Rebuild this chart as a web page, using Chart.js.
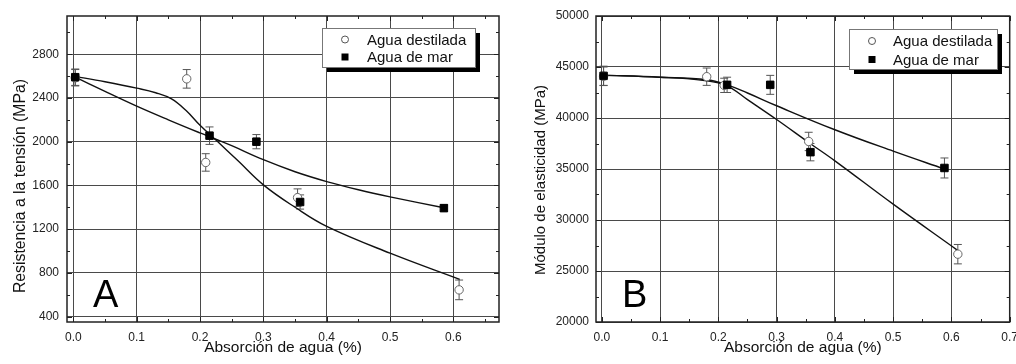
<!DOCTYPE html>
<html>
<head>
<meta charset="utf-8">
<script src="https://cdn.jsdelivr.net/npm/chart.js@4.4.1/dist/chart.umd.min.js"></script>
<style>
    html, body { margin: 0; padding: 0; background: #fff; }
    #wrap { position: relative; width: 1016px; height: 364px; overflow: hidden; }
    canvas { position: absolute; top: 0; }
    #chartA { left: 0; }
    #chartB { left: 508px; }
</style>
</head>
<body>
<div id="wrap">
    <canvas id="chartA" width="508" height="364"></canvas>
    <canvas id="chartB" width="508" height="364"></canvas>
</div>
<script>
// ===== Data =====
const seriesNames = ['Agua destilada', 'Agua de mar'];
const xTitle = 'Absorción de agua (%)';

// Panel A - Resistencia a la tensión
const xDestA = [0.003, 0.179, 0.209, 0.354, 0.609];
const yDestA = [2585, 2575, 1810, 1488, 644];
const errDestA = [75, 85, 80, 80, 90];
const xMarA = [0.003, 0.215, 0.289, 0.358, 0.585];
const yMarA = [2590, 2055, 2000, 1448, 1392];
const errMarA = [75, 80, 65, 65, 30];
const fitDestAx = [0, 0.05, 0.1, 0.13, 0.155, 0.178, 0.2, 0.226, 0.26, 0.3, 0.35, 0.4, 0.5, 0.61];
const fitDestAy = [2600, 2548, 2490, 2448, 2392, 2285, 2150, 2010, 1825, 1605, 1400, 1225, 980, 740];
const fitMarAx = [0, 0.05, 0.1, 0.15, 0.2, 0.226, 0.25, 0.3, 0.35, 0.4, 0.45, 0.5, 0.585];
const fitMarAy = [2600, 2460, 2325, 2200, 2080, 2020, 1963, 1835, 1725, 1635, 1560, 1495, 1395];
const xTicksA = [0, 0.1, 0.2, 0.3, 0.4, 0.5, 0.6];
const xMinorA = [0.05, 0.15, 0.25, 0.35, 0.45, 0.55, 0.65];
const yTicksA = [400, 800, 1200, 1600, 2000, 2400, 2800];
const yMinorA = [600, 1000, 1400, 1800, 2200, 2600, 3000];

// Panel B - Módulo de elasticidad
const xDestB = [0.003, 0.180, 0.210, 0.355, 0.611];
const yDestB = [44100, 44050, 43200, 37700, 26650];
const errDestB = [900, 850, 700, 900, 950];
const xMarB = [0.003, 0.215, 0.289, 0.358, 0.588];
const yMarB = [44130, 43250, 43250, 36650, 35100];
const errMarB = [950, 750, 930, 850, 980];
const fitDestBx = [0, 0.1, 0.18, 0.215, 0.25, 0.3, 0.355, 0.4, 0.5, 0.61];
const fitDestBy = [44200, 44000, 43650, 43150, 41800, 39850, 37600, 35800, 31550, 27050];
const fitMarBx = [0, 0.1, 0.18, 0.215, 0.25, 0.3, 0.4, 0.5, 0.588];
const fitMarBy = [44200, 44000, 43750, 43250, 42450, 41200, 38850, 36750, 35000];
const xTicksB = [0, 0.1, 0.2, 0.3, 0.4, 0.5, 0.6, 0.7];
const xMinorB = [0.05, 0.15, 0.25, 0.35, 0.45, 0.55, 0.65];
const yTicksB = [20000, 25000, 30000, 35000, 40000, 45000, 50000];
const yMinorB = [22500, 27500, 32500, 37500, 42500, 47500];

const FONT = "'Liberation Sans', Arial, sans-serif";
Chart.defaults.font.family = FONT;
Chart.defaults.color = '#222';

const toPoints = (xs, ys) => xs.map((x, i) => ({ x, y: ys[i] }));

/**
 * Vertical error bars, drawn under the markers
 */
const errorBarPlugin = {
    id: 'errorBars',
    beforeDatasetsDraw(chart) {
        const ctx = chart.ctx;
        const yScale = chart.scales.y;
        ctx.save();
        ctx.strokeStyle = '#555';
        ctx.lineWidth = 1;
        chart.data.datasets.forEach((ds, di) => {
            if (!ds.errors) return;
            const meta = chart.getDatasetMeta(di);
            meta.data.forEach((pt, i) => {
                const v = ds.data[i].y;
                const top = yScale.getPixelForValue(v + ds.errors[i]);
                const bot = yScale.getPixelForValue(v - ds.errors[i]);
                ctx.beginPath();
                ctx.moveTo(pt.x, top); ctx.lineTo(pt.x, bot);
                ctx.moveTo(pt.x - 4, top); ctx.lineTo(pt.x + 4, top);
                ctx.moveTo(pt.x - 4, bot); ctx.lineTo(pt.x + 4, bot);
                ctx.stroke();
            });
        });
        ctx.restore();
    }
};

/**
 * Box frame with inward ticks, y title, panel letter and boxed legend
 */
const framePlugin = {
    id: 'frame',
    afterDraw(chart, args, opts) {
        const ctx = chart.ctx;
        const { left, right, top, bottom } = chart.chartArea;
        const xs = chart.scales.x, ys = chart.scales.y;
        ctx.save();
        ctx.strokeStyle = '#222';
        ctx.lineWidth = 1.5;
        ctx.strokeRect(left, top, right - left, bottom - top);

        ctx.lineWidth = 1;
        const tickX = (vals, len) => vals.forEach(v => {
            const px = Math.round(xs.getPixelForValue(v)) + 0.5;
            ctx.beginPath();
            ctx.moveTo(px, bottom); ctx.lineTo(px, bottom - len);
            ctx.moveTo(px, top); ctx.lineTo(px, top + len);
            ctx.stroke();
        });
        const tickY = (vals, len) => vals.forEach(v => {
            const py = Math.round(ys.getPixelForValue(v)) + 0.5;
            ctx.beginPath();
            ctx.moveTo(left, py); ctx.lineTo(left + len, py);
            ctx.moveTo(right, py); ctx.lineTo(right - len, py);
            ctx.stroke();
        });
        tickX(opts.xMajor, 5); tickX(opts.xMinor, 3);
        tickY(opts.yMajor, 5); tickY(opts.yMinor, 3);

        // y axis title
        ctx.save();
        ctx.translate(opts.yTitleX, opts.yTitleY);
        ctx.rotate(-Math.PI / 2);
        ctx.font = opts.yTitleSize + 'px ' + FONT;
        ctx.fillStyle = '#111';
        ctx.textAlign = 'center';
        ctx.textBaseline = 'middle';
        ctx.fillText(opts.yTitle, 0, 0);
        ctx.restore();

        // panel letter
        ctx.fillStyle = '#000';
        ctx.font = '38px ' + FONT;
        ctx.textBaseline = 'alphabetic';
        ctx.textAlign = 'left';
        ctx.fillText(opts.letter, opts.letterX, 307);

        // legend box with shadow
        const lg = opts.legend;
        ctx.fillStyle = '#000';
        ctx.fillRect(lg.x + 5, lg.y + 5, lg.w, lg.h);
        ctx.fillStyle = '#fff';
        ctx.fillRect(lg.x, lg.y, lg.w, lg.h);
        ctx.strokeStyle = '#777';
        ctx.strokeRect(lg.x + 0.5, lg.y + 0.5, lg.w, lg.h);

        ctx.beginPath();
        ctx.arc(lg.markerX, lg.rows[0], 3.5, 0, Math.PI * 2);
        ctx.strokeStyle = '#555';
        ctx.stroke();
        ctx.fillStyle = '#000';
        ctx.fillRect(lg.markerX - 3.5, lg.rows[1] - 3.5, 7, 7);

        ctx.font = '15px ' + FONT;
        ctx.textBaseline = 'middle';
        ctx.fillStyle = '#111';
        seriesNames.forEach((name, i) => ctx.fillText(name, lg.textX, lg.rows[i] + 1));
        ctx.restore();
    }
};

/**
 * Build one panel chart
 */
function createPanel(canvasId, p) {
    const ctx = document.getElementById(canvasId);
    const fitStyle = {
        showLine: true,
        pointRadius: 0,
        borderColor: '#111',
        borderWidth: 1.4,
        tension: 0.4
    };
    return new Chart(ctx, {
        type: 'scatter',
        data: {
            datasets: [
                {
                    label: seriesNames[1],
                    data: toPoints(p.xMar, p.yMar),
                    errors: p.errMar,
                    pointStyle: 'rect',
                    pointRadius: 5.3,
                    backgroundColor: '#000',
                    borderColor: '#000',
                    borderWidth: 1
                },
                {
                    label: seriesNames[0],
                    data: toPoints(p.xDest, p.yDest),
                    errors: p.errDest,
                    pointStyle: 'circle',
                    pointRadius: 4.2,
                    backgroundColor: '#fff',
                    borderColor: '#666',
                    borderWidth: 1
                },
                { label: 'ajuste destilada', data: toPoints(p.fitDestX, p.fitDestY), ...fitStyle },
                { label: 'ajuste mar', data: toPoints(p.fitMarX, p.fitMarY), ...fitStyle }
            ]
        },
        options: {
            responsive: false,
            animation: false,
            events: [],
            layout: { padding: { left: 0, top: 16, right: p.padRight, bottom: 0 } },
            plugins: {
                legend: { display: false },
                tooltip: { enabled: false },
                frame: {
                    xMajor: p.xTicks, xMinor: p.xMinor,
                    yMajor: p.yTicks, yMinor: p.yMinor,
                    yTitle: p.yTitle, yTitleX: p.yTitleX, yTitleY: p.yTitleY, yTitleSize: p.yTitleSize,
                    letter: p.letter, letterX: p.letterX,
                    legend: p.legend
                }
            },
            scales: {
                x: {
                    type: 'linear',
                    min: -0.01,
                    max: p.xMax,
                    afterBuildTicks: s => { s.ticks = p.xTicks.map(v => ({ value: v })); },
                    afterFit: s => { s.height = 42; s.paddingLeft = 0; s.paddingRight = 0; },
                    ticks: {
                        autoSkip: false,
                        maxRotation: 0,
                        padding: 8,
                        color: '#222',
                        font: { size: 12 },
                        callback: v => v.toFixed(1)
                    },
                    grid: { color: '#4a4a4a', lineWidth: 1, drawTicks: false },
                    border: { display: false },
                    title: {
                        display: true,
                        text: xTitle,
                        color: '#111',
                        font: { size: 15.5 },
                        padding: { top: 0, bottom: 7 }
                    }
                },
                y: {
                    type: 'linear',
                    min: p.yMin,
                    max: p.yMax,
                    afterBuildTicks: s => { s.ticks = p.yTicks.map(v => ({ value: v })); },
                    afterFit: s => { s.width = p.yWidth; s.paddingTop = 0; s.paddingBottom = 0; },
                    ticks: {
                        autoSkip: false,
                        padding: p.yTickPad,
                        color: '#222',
                        font: { size: 12 },
                        callback: v => String(v)
                    },
                    grid: { color: '#4a4a4a', lineWidth: 1, drawTicks: false },
                    border: { display: false }
                }
            }
        },
        plugins: [errorBarPlugin, framePlugin]
    });
}

createPanel('chartA', {
    xDest: xDestA, yDest: yDestA, errDest: errDestA,
    xMar: xMarA, yMar: yMarA, errMar: errMarA,
    fitDestX: fitDestAx, fitDestY: fitDestAy,
    fitMarX: fitMarAx, fitMarY: fitMarAy,
    xTicks: xTicksA, xMinor: xMinorA, yTicks: yTicksA, yMinor: yMinorA,
    xMax: 0.672, yMin: 350, yMax: 3150,
    yTitle: 'Resistencia a la tensión (MPa)', yTitleX: 21, yTitleY: 186, yTitleSize: 15.8,
    yWidth: 67, yTickPad: 8, padRight: 9,
    letter: 'A', letterX: 93,
    legend: { x: 322, y: 28, w: 153, h: 39, markerX: 345, textX: 367, rows: [39.5, 57] }
});

createPanel('chartB', {
    xDest: xDestB, yDest: yDestB, errDest: errDestB,
    xMar: xMarB, yMar: yMarB, errMar: errMarB,
    fitDestX: fitDestBx, fitDestY: fitDestBy,
    fitMarX: fitMarBx, fitMarY: fitMarBy,
    xTicks: xTicksB, xMinor: xMinorB, yTicks: yTicksB, yMinor: yMinorB,
    xMax: 0.70, yMin: 20000, yMax: 50000,
    yTitle: 'Módulo de elasticidad (MPa)', yTitleX: 33, yTitleY: 180, yTitleSize: 15,
    yWidth: 88, yTickPad: 7, padRight: 5.3,
    letter: 'B', letterX: 114,
    legend: { x: 341, y: 29, w: 148, h: 40, markerX: 364, textX: 385, rows: [41, 59.5] }
});
</script>
</body>
</html>
